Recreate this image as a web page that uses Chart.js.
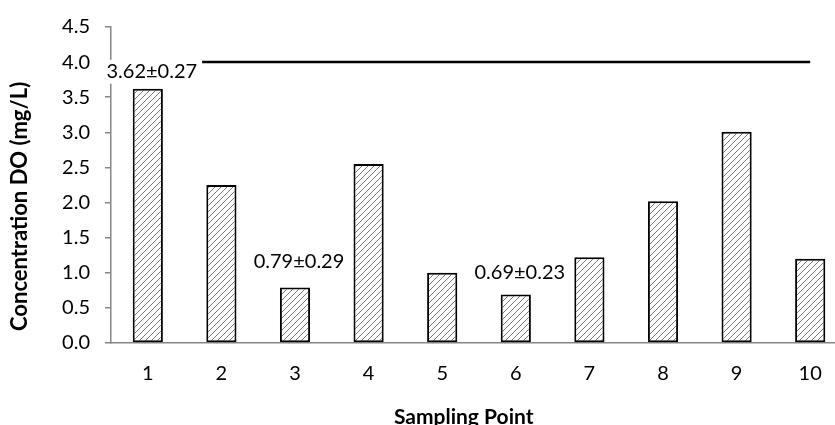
<!DOCTYPE html>
<html>
<head>
<meta charset="utf-8">
<script src="https://cdn.jsdelivr.net/npm/chart.js@4.4.1/dist/chart.umd.min.js"></script>
<style>
  html, body { margin: 0; padding: 0; background: #fff; overflow: hidden; }
  canvas { display: block; }
</style>
</head>
<body>
<canvas id="doChart" width="860" height="430"></canvas>
<script>
// Sampling points and dissolved oxygen readings
const samplingPoints = ['1', '2', '3', '4', '5', '6', '7', '8', '9', '10'];
const doValues = [3.62, 2.25, 0.79, 2.55, 1.00, 0.69, 1.22, 2.02, 3.01, 1.20];
// standard deviations, only the labelled points
const doSd = [0.27, null, 0.29, null, null, 0.23, null, null, null, null];
// standard line (mg/L)
const standardDo = [4, 4, 4, 4, 4, 4, 4, 4, 4, 4];
const yTicks = [0, 0.5, 1, 1.5, 2, 2.5, 3, 3.5, 4, 4.5];

const FONT = 'Lato, "Open Sans", sans-serif';
const AXIS_GREY = '#868686';

// hatch fill like the Excel "wide upward diagonal" pattern
function makeHatch() {
    const c = document.createElement('canvas');
    c.width = 6;
    c.height = 6;
    const g = c.getContext('2d');
    g.fillStyle = '#fff';
    g.fillRect(0, 0, 6, 6);
    g.strokeStyle = '#7a7a7a';
    g.lineWidth = 1;
    g.beginPath();
    g.moveTo(0, 6); g.lineTo(6, 0);
    g.moveTo(-1, 1); g.lineTo(1, -1);
    g.moveTo(5, 7); g.lineTo(7, 5);
    g.stroke();
    return g.createPattern(c, 'repeat');
}

// mean ± sd labels with a white box behind them
const sdLabels = {
    id: 'sdLabels',
    afterDatasetsDraw(chart, args, opts) {
        const ctx = chart.ctx;
        const meta = chart.getDatasetMeta(1);
        ctx.save();
        ctx.font = '20px ' + FONT;
        ctx.textAlign = 'center';
        ctx.textBaseline = 'middle';
        doSd.forEach((sd, i) => {
            if (sd === null) return;
            const bar = meta.data[i];
            const text = doValues[i].toFixed(2) + '\u00b1' + sd.toFixed(2);
            const y = bar.y - (opts.offsets[i] || 20);
            const w = ctx.measureText(text).width + 10;
            ctx.fillStyle = '#fff';
            ctx.fillRect(bar.x + 4 - w / 2, y - 12, w, 24);
            ctx.fillStyle = '#000';
            ctx.fillText(text, bar.x + 4, y);
        });
        ctx.restore();
    }
};

new Chart(document.getElementById('doChart'), {
    data: {
        labels: samplingPoints,
        datasets: [{
            type: 'line',
            label: 'Standard',
            data: standardDo,
            borderColor: '#000',
            borderWidth: 2.5,
            pointRadius: 0,
            fill: false,
            order: 0
        }, {
            type: 'bar',
            label: 'DO',
            data: doValues,
            backgroundColor: makeHatch(),
            borderColor: '#000',
            borderWidth: 2,
            borderSkipped: false,
            categoryPercentage: 1,
            barPercentage: 0.41,
            order: 1
        }]
    },
    options: {
        responsive: false,
        animation: false,
        layout: { padding: { top: 27, right: 13, bottom: 0, left: 0 } },
        plugins: {
            legend: { display: false },
            tooltip: { enabled: false },
            sdLabels: { offsets: { 0: 17, 2: 26, 5: 22 } }
        },
        scales: {
            x: {
                grid: { display: false, drawTicks: false },
                border: { display: true, color: AXIS_GREY, width: 1.5 },
                ticks: { color: '#000', font: { family: FONT, size: 20 }, padding: 19 },
                title: {
                    display: true,
                    text: 'Sampling Point      ',
                    color: '#000',
                    font: { family: FONT, size: 21, weight: 'bold' },
                    padding: { top: 0, bottom: 0 }
                },
                afterFit(scale) { scale.height = 87; }
            },
            y: {
                min: 0,
                max: 4.5,
                afterBuildTicks(scale) { scale.ticks = yTicks.map(v => ({ value: v })); },
                grid: { drawOnChartArea: false, drawTicks: true, tickLength: 6, color: AXIS_GREY, lineWidth: 1.5 },
                border: { display: true, color: AXIS_GREY, width: 1.5 },
                ticks: {
                    color: '#000',
                    font: { family: FONT, size: 20 },
                    padding: 15,
                    callback: v => Number(v).toFixed(1)
                },
                title: {
                    display: true,
                    text: 'Concentration DO (mg/L)        ',
                    color: '#000',
                    font: { family: FONT, size: 22, weight: 'bold' },
                    padding: { top: 7, bottom: 0 }
                },
                afterFit(scale) { scale.width = 111; }
            }
        }
    },
    plugins: [sdLabels]
});
</script>
</body>
</html>
